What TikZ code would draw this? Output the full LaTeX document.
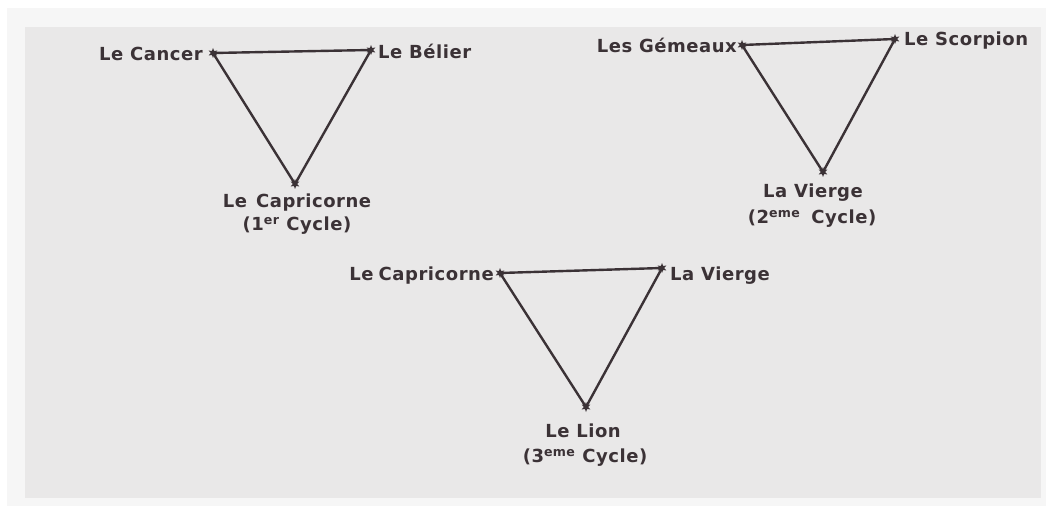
\documentclass[tikz,border=0pt]{standalone}
\usepackage{fontspec}
\newfontfamily\labfont[LetterSpace=3]{DejaVu Sans}
\usetikzlibrary{shapes.geometric}
\definecolor{ink}{HTML}{3B3236}
\definecolor{paper}{HTML}{E9E8E8}
\definecolor{margin}{HTML}{F6F6F6}
\tikzset{
  lab/.style={inner sep=0pt, text=ink, font=\labfont\bfseries\fontsize{18pt}{20pt}\selectfont},
  side/.style={draw=ink, line width=2.4pt},
  vstar/.style={star, star points=6, star point ratio=2.2, minimum size=10pt, inner sep=0pt, fill=ink, draw=none}
}
\begin{document}
\begin{tikzpicture}[x=1pt, y=-1pt]
\useasboundingbox (0,0) rectangle (1053,513);
\fill[white] (0,0) rectangle (1053,513);
\fill[margin] (7,8) rectangle (1046,506);
\fill[paper] (25,27) rectangle (1041,498);
% triangle 1
\coordinate (c1) at (213,53);
\coordinate (b1) at (371,50);
\coordinate (p1) at (295,184);
\draw[side] (c1) -- (b1) -- (p1) -- cycle;
\foreach \v in {c1,b1,p1} \node[vstar] at (\v) {};
\node[lab, anchor=east] (lc1) at (203,54) {Le Cancer};
\node[lab, anchor=west] (lb1) at (378,51) {Le Bélier};
\node[lab] (lp1) at (297,203) {Le\hspace{0.5em}Capricorne};
\node[lab] (ly1) at (297,226) {(1\textsuperscript{er} Cycle)};
% triangle 2
\coordinate (g2) at (742,45);
\coordinate (s2) at (895,39);
\coordinate (v2) at (823,172);
\draw[side] (g2) -- (s2) -- (v2) -- cycle;
\foreach \v in {g2,s2,v2} \node[vstar] at (\v) {};
\node[lab, anchor=east] (lg2) at (737,45) {Les Gémeaux};
\node[lab, anchor=west] (ls2) at (904,41) {Le Scorpion};
\node[lab] (lv2) at (813,193) {La Vierge};
\node[lab] (ly2) at (812,219) {(2\textsuperscript{eme}\hspace{0.6em}Cycle)};
% triangle 3
\coordinate (c3) at (500,273);
\coordinate (v3) at (662,268);
\coordinate (l3) at (586,407);
\draw[side] (c3) -- (v3) -- (l3) -- cycle;
\foreach \v in {c3,v3,l3} \node[vstar] at (\v) {};
\node[lab, anchor=east] (lc3) at (494,276) {Le\hspace{-0.1em} Capricorne};
\node[lab, anchor=west] (lv3) at (670,276) {La Vierge};
\node[lab] (ll3) at (583,431) {Le Lion};
\node[lab] (ly3) at (585,458) {(3\textsuperscript{eme} Cycle)};
\end{tikzpicture}
\end{document}
